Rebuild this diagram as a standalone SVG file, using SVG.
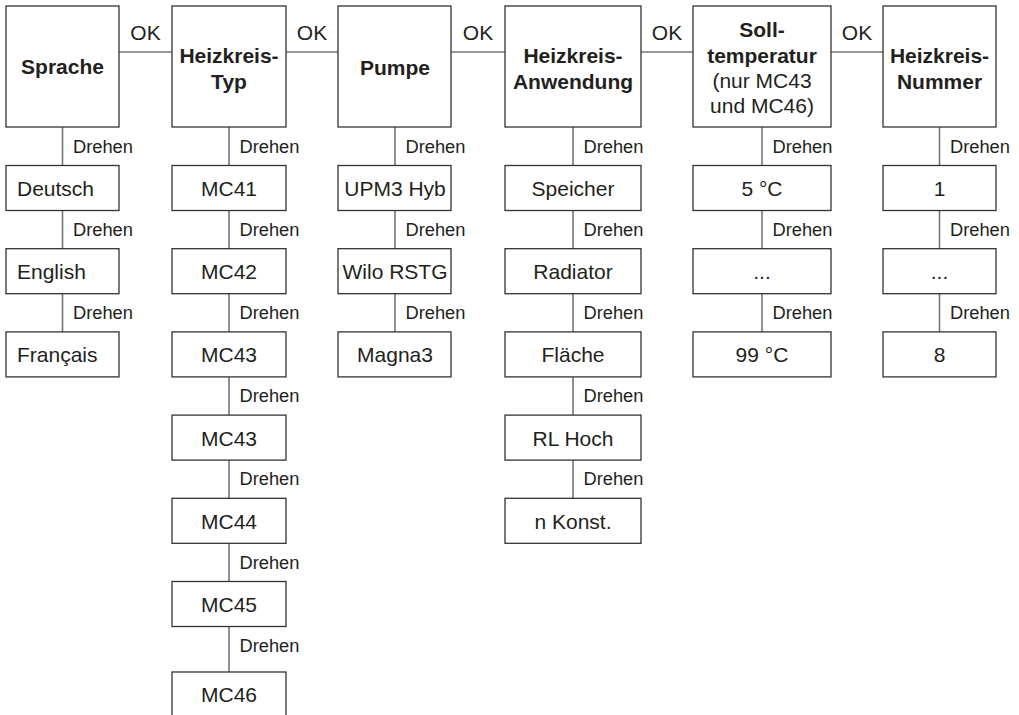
<svg xmlns="http://www.w3.org/2000/svg" width="1019" height="715" viewBox="0 0 1019 715">
<style>
.box{fill:#fff;stroke:#333;stroke-width:1.3}
.ln{stroke:#777;stroke-width:1.6;fill:none}
text{font-family:"Liberation Sans",Arial,sans-serif;fill:#231f20}
.h{font-size:21px;font-weight:bold;text-anchor:middle}
.t{font-size:21px;text-anchor:middle}
.tl{font-size:21px}
.lbl{font-size:18.3px}
.ok{font-size:21px;text-anchor:middle}
</style>
<rect width="1019" height="715" fill="#fff"/>
<g id="connectors">
<path class="ln" d="M119 52H172M286 52H338M451 52H505M641 52H693M831 52H883"/>
<path class="ln" d="M62.5 127V376"/>
<path class="ln" d="M229 127V672"/>
<path class="ln" d="M395 127V376"/>
<path class="ln" d="M573 127V542"/>
<path class="ln" d="M762 127V376"/>
<path class="ln" d="M939.5 127V376"/>
<text class="ok" x="145.5" y="40">OK</text>
<text class="ok" x="312" y="40">OK</text>
<text class="ok" x="478" y="40">OK</text>
<text class="ok" x="667" y="40">OK</text>
<text class="ok" x="857" y="40">OK</text>
<g class="lbl">
<text x="73" y="152.5">Drehen</text><text x="73" y="235.7">Drehen</text><text x="73" y="318.9">Drehen</text>
<text x="239.5" y="152.5">Drehen</text><text x="239.5" y="235.7">Drehen</text><text x="239.5" y="318.9">Drehen</text><text x="239.5" y="402.1">Drehen</text><text x="239.5" y="485.3">Drehen</text><text x="239.5" y="568.5">Drehen</text><text x="239.5" y="651.5">Drehen</text>
<text x="405.5" y="152.5">Drehen</text><text x="405.5" y="235.7">Drehen</text><text x="405.5" y="318.9">Drehen</text>
<text x="583.5" y="152.5">Drehen</text><text x="583.5" y="235.7">Drehen</text><text x="583.5" y="318.9">Drehen</text><text x="583.5" y="402.1">Drehen</text><text x="583.5" y="485.3">Drehen</text>
<text x="772.5" y="152.5">Drehen</text><text x="772.5" y="235.7">Drehen</text><text x="772.5" y="318.9">Drehen</text>
<text x="950" y="152.5">Drehen</text><text x="950" y="235.7">Drehen</text><text x="950" y="318.9">Drehen</text>
</g>
</g>
<g id="sprache"><rect class="box" x="6" y="6" width="113" height="121"/><text class="h" x="62.5" y="74">Sprache</text></g>
<g id="heizkreis-typ"><rect class="box" x="172" y="6" width="114" height="121"/><text class="h" x="229" y="63">Heizkreis-</text><text class="h" x="229" y="88.5">Typ</text></g>
<g id="pumpe"><rect class="box" x="338" y="6" width="113" height="121"/><text class="h" x="395" y="75">Pumpe</text></g>
<g id="heizkreis-anwendung"><rect class="box" x="505" y="6" width="136" height="121"/><text class="h" x="573" y="63">Heizkreis-</text><text class="h" x="573" y="88.5">Anwendung</text></g>
<g id="solltemperatur"><rect class="box" x="693" y="6" width="138" height="121"/><text class="h" x="762" y="37">Soll-</text><text class="h" x="762" y="62.5">temperatur</text><text class="t" x="762" y="87.5">(nur MC43</text><text class="t" x="762" y="112.5">und MC46)</text></g>
<g id="heizkreis-nummer"><rect class="box" x="883" y="6" width="113" height="121"/><text class="h" x="939.5" y="63">Heizkreis-</text><text class="h" x="939.5" y="88.5">Nummer</text></g>

<g id="deutsch"><rect class="box" x="6" y="165.5" width="113" height="45"/><text class="tl" x="17" y="196">Deutsch</text></g>
<g id="english"><rect class="box" x="6" y="248.7" width="113" height="45"/><text class="tl" x="17" y="279.2">English</text></g>
<g id="francais"><rect class="box" x="6" y="331.9" width="113" height="45"/><text class="tl" x="17" y="362.4">Français</text></g>

<g id="mc41"><rect class="box" x="172" y="165.5" width="114" height="45"/><text class="t" x="229" y="196">MC41</text></g>
<g id="mc42"><rect class="box" x="172" y="248.7" width="114" height="45"/><text class="t" x="229" y="279.2">MC42</text></g>
<g id="mc43a"><rect class="box" x="172" y="331.9" width="114" height="45"/><text class="t" x="229" y="362.4">MC43</text></g>
<g id="mc43b"><rect class="box" x="172" y="415.1" width="114" height="45"/><text class="t" x="229" y="445.6">MC43</text></g>
<g id="mc44"><rect class="box" x="172" y="498.3" width="114" height="45"/><text class="t" x="229" y="528.8">MC44</text></g>
<g id="mc45"><rect class="box" x="172" y="581.5" width="114" height="45"/><text class="t" x="229" y="612">MC45</text></g>
<g id="mc46"><rect class="box" x="172" y="672" width="114" height="60"/><text class="t" x="229" y="702">MC46</text></g>

<g id="upm3"><rect class="box" x="338" y="165.5" width="113" height="45"/><text class="t" x="395" y="196">UPM3 Hyb</text></g>
<g id="wilo"><rect class="box" x="338" y="248.7" width="113" height="45"/><text class="t" x="395" y="279.2">Wilo RSTG</text></g>
<g id="magna3"><rect class="box" x="338" y="331.9" width="113" height="45"/><text class="t" x="395" y="362.4">Magna3</text></g>

<g id="speicher"><rect class="box" x="505" y="165.5" width="136" height="45"/><text class="t" x="573" y="196">Speicher</text></g>
<g id="radiator"><rect class="box" x="505" y="248.7" width="136" height="45"/><text class="t" x="573" y="279.2">Radiator</text></g>
<g id="flaeche"><rect class="box" x="505" y="331.9" width="136" height="45"/><text class="t" x="573" y="362.4">Fläche</text></g>
<g id="rlhoch"><rect class="box" x="505" y="415.1" width="136" height="45"/><text class="t" x="573" y="445.6">RL Hoch</text></g>
<g id="nkonst"><rect class="box" x="505" y="498.3" width="136" height="45"/><text class="t" x="573" y="528.8">n Konst.</text></g>

<g id="t5"><rect class="box" x="693" y="165.5" width="138" height="45"/><text class="t" x="762" y="196">5 °C</text></g>
<g id="tdots"><rect class="box" x="693" y="248.7" width="138" height="45"/><text class="t" x="762" y="279.2">...</text></g>
<g id="t99"><rect class="box" x="693" y="331.9" width="138" height="45"/><text class="t" x="762" y="362.4">99 °C</text></g>

<g id="n1"><rect class="box" x="883" y="165.5" width="113" height="45"/><text class="t" x="939.5" y="196">1</text></g>
<g id="ndots"><rect class="box" x="883" y="248.7" width="113" height="45"/><text class="t" x="939.5" y="279.2">...</text></g>
<g id="n8"><rect class="box" x="883" y="331.9" width="113" height="45"/><text class="t" x="939.5" y="362.4">8</text></g>
</svg>
